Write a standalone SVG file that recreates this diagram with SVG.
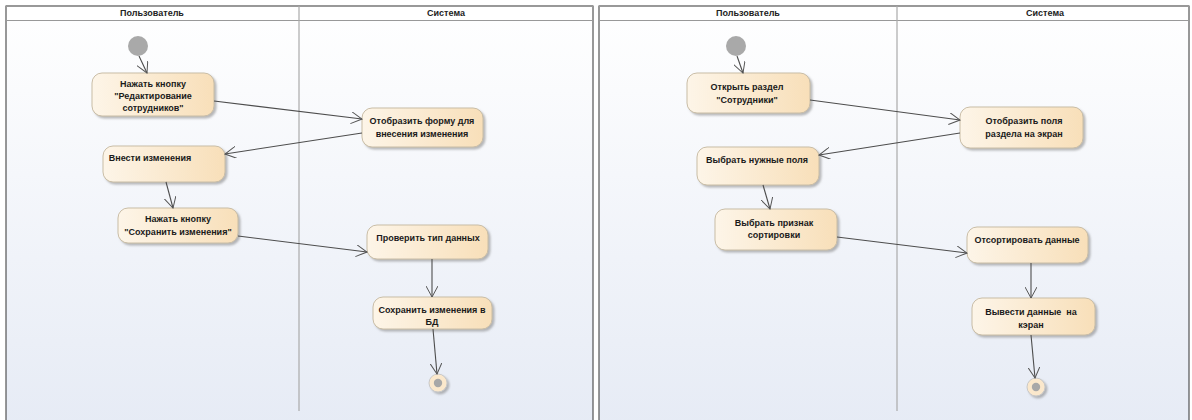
<svg xmlns="http://www.w3.org/2000/svg" width="1192" height="420" viewBox="0 0 1192 420">
  <defs>
    <linearGradient id="laneBg" x1="0" y1="0" x2="0" y2="1">
      <stop offset="0" stop-color="#ffffff"/>
      <stop offset="1" stop-color="#e6ebf5"/>
    </linearGradient>
    <linearGradient id="actFill" x1="0" y1="0" x2="1" y2="0">
      <stop offset="0" stop-color="#fdf5e8"/>
      <stop offset="1" stop-color="#f8dfb9"/>
    </linearGradient>
    <filter id="shadow" x="-10%" y="-20%" width="130%" height="160%">
      <feDropShadow dx="2" dy="2" stdDeviation="1.2" flood-color="#808080" flood-opacity="0.55"/>
    </filter>
    <marker id="open" viewBox="0 0 12 12" refX="11" refY="6" markerWidth="12" markerHeight="12" markerUnits="userSpaceOnUse" orient="auto">
      <path d="M0,0 L11,6 L0,12" fill="none" stroke="#555" stroke-width="1"/>
    </marker>
  </defs>
  <style>
    .panel { fill: url(#laneBg); stroke: #333; stroke-width: 1; }
    .head { fill: #ffffff; stroke: #999; stroke-width: 1; }
    .lane { stroke: #aaa; stroke-width: 1.2; }
    .hdr { font-family: "Liberation Sans", Arial, sans-serif; font-size: 9px; font-weight: bold; fill: #222; text-anchor: middle; }
    .act rect { fill: url(#actFill); stroke: #c9bda6; stroke-width: 1; filter: url(#shadow); }
    .act text { font-family: "Liberation Sans", Arial, sans-serif; font-size: 9px; font-weight: bold; fill: #1a1a1a; text-anchor: middle; white-space: pre; }
    .start { fill: #a9a9a9; }
    .endo { fill: #fbe8cc; stroke: #c8c8c8; stroke-width: 1; filter: url(#shadow); }
    .endi { fill: #a8a8a8; }
    .flow path { fill: none; stroke: #4d4d4d; stroke-width: 1.1; marker-end: url(#open); }
  </style>

  <rect width="1192" height="420" fill="#ffffff"/>

  <!-- left swimlane frame -->
  <g id="frameA">
    <rect class="panel" x="6" y="6" width="587" height="420"/>
    <rect class="head" x="6.5" y="6.5" width="586" height="14"/>
    <line class="lane" x1="299" y1="6" x2="299" y2="411"/>
    <text class="hdr" x="152" y="16">Пользователь</text>
    <text class="hdr" x="446" y="16">Система</text>
  </g>

  <!-- right swimlane frame -->
  <g id="frameB">
    <rect class="panel" x="599" y="6" width="590" height="420"/>
    <rect class="head" x="599.5" y="6.5" width="589" height="14"/>
    <line class="lane" x1="897" y1="6" x2="897" y2="411"/>
    <text class="hdr" x="748" y="16">Пользователь</text>
    <text class="hdr" x="1045" y="16">Система</text>
  </g>

  <!-- left diagram nodes -->
  <g id="a-start"><circle class="start" cx="138" cy="46" r="10"/></g>
  <g id="a-edit" class="act">
    <rect x="92" y="73" width="122" height="43" rx="10"/>
    <text x="153" y="87">Нажать кнопку</text>
    <text x="153" y="99">"Редактирование</text>
    <text x="153" y="111">сотрудников"</text>
  </g>
  <g id="a-form" class="act">
    <rect x="362" y="108" width="121" height="39" rx="10"/>
    <text x="422" y="124">Отобразить форму для</text>
    <text x="422" y="137">внесения изменения</text>
  </g>
  <g id="a-input" class="act">
    <rect x="103" y="146" width="122" height="36" rx="10"/>
    <text x="150" y="161">Внести изменения</text>
  </g>
  <g id="a-save-btn" class="act">
    <rect x="118" y="208" width="120" height="35" rx="10"/>
    <text x="178" y="222">Нажать кнопку</text>
    <text x="178" y="235">"Сохранить изменения"</text>
  </g>
  <g id="a-check" class="act">
    <rect x="367" y="225" width="121" height="34" rx="10"/>
    <text x="428" y="241">Проверить тип данных</text>
  </g>
  <g id="a-store" class="act">
    <rect x="373" y="297" width="119" height="32" rx="10"/>
    <text x="432" y="313">Сохранить изменения в</text>
    <text x="432" y="325">БД</text>
  </g>
  <g id="a-end">
    <circle class="endo" cx="438" cy="383" r="9"/>
    <circle class="endi" cx="438" cy="383" r="4.2"/>
  </g>

  <!-- right diagram nodes -->
  <g id="b-start"><circle class="start" cx="736" cy="46" r="10"/></g>
  <g id="b-open" class="act">
    <rect x="687" y="73" width="123" height="40" rx="10"/>
    <text x="747" y="90">Открыть раздел</text>
    <text x="747" y="103">"Сотрудники"</text>
  </g>
  <g id="b-show" class="act">
    <rect x="960" y="107" width="123" height="41" rx="10"/>
    <text x="1024" y="124">Отобразить поля</text>
    <text x="1024" y="137">раздела на экран</text>
  </g>
  <g id="b-fields" class="act">
    <rect x="697" y="147" width="122" height="38" rx="10"/>
    <text x="757" y="163">Выбрать нужные поля</text>
  </g>
  <g id="b-sortkey" class="act">
    <rect x="715" y="209" width="122" height="41" rx="10"/>
    <text x="774" y="226">Выбрать признак</text>
    <text x="774" y="238">сортировки</text>
  </g>
  <g id="b-sort" class="act">
    <rect x="967" y="227" width="121" height="36" rx="10"/>
    <text x="1027" y="243">Отсортировать данные</text>
  </g>
  <g id="b-output" class="act">
    <rect x="972" y="298" width="123" height="37" rx="10"/>
    <text x="1031" y="315" xml:space="preserve">Вывести данные  на</text>
    <text x="1031" y="328">кэран</text>
  </g>
  <g id="b-end">
    <circle class="endo" cx="1036" cy="387" r="9"/>
    <circle class="endi" cx="1036" cy="387" r="4.2"/>
  </g>

  <!-- control flows -->
  <g id="flows" class="flow">
    <path d="M139,56 L147,73"/>
    <path d="M214,101 L362,119"/>
    <path d="M362,133 L225,154"/>
    <path d="M166,182 L173,208"/>
    <path d="M238,236 L367,252"/>
    <path d="M432,259 L432,297"/>
    <path d="M433,329 L437,374"/>

    <path d="M737,56 L743,73"/>
    <path d="M810,100 L960,120"/>
    <path d="M960,133 L819,155"/>
    <path d="M763,185 L770,209"/>
    <path d="M837,237 L967,253"/>
    <path d="M1031,263 L1031,298"/>
    <path d="M1031,335 L1035,378"/>
  </g>
</svg>
